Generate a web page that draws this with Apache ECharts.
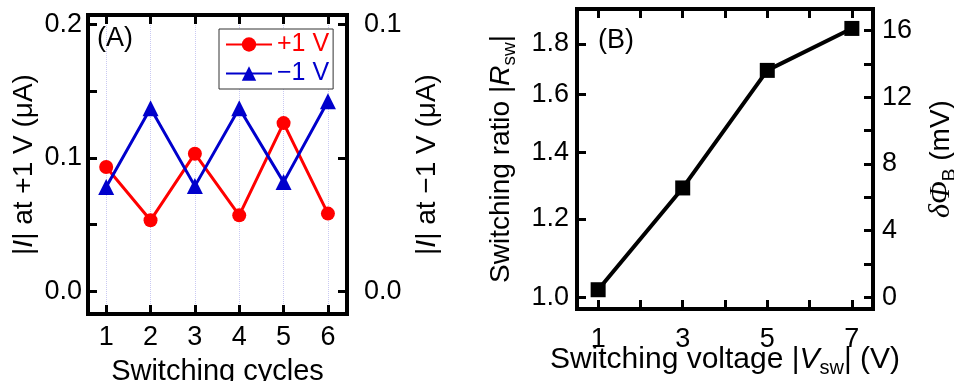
<!DOCTYPE html>
<html>
<head>
<meta charset="utf-8">
<script src="https://cdn.jsdelivr.net/npm/echarts@6/dist/echarts.min.js"></script>
<style>
  html, body { margin: 0; padding: 0; background: #fff; }
  #chart { width: 954px; height: 381px; }
</style>
</head>
<body>
<div id="chart"></div>
<script>
// ---- panel A: current after each switching cycle ----
const cycles = [1, 2, 3, 4, 5, 6];
const currentPos = [0.0931, 0.0532, 0.1031, 0.0569, 0.126, 0.0582]; // |I| at +1 V, left axis
const currentNeg = [0.0391, 0.0686, 0.0394, 0.0686, 0.0409, 0.0712]; // |I| at -1 V, right axis
const leftTicksA = [0, 0.05, 0.1, 0.15, 0.2];
const leftLabelsA = [0, 0.1, 0.2];
const rightTicksA = [0, 0.05, 0.1];
const rightLabelsA = [0, 0.1];

// ---- panel B: switching ratio vs switching voltage ----
const voltages = [1, 3, 5, 7];
const ratios = [1.018, 1.289, 1.693, 1.866];
const voltTicks = [1, 2, 3, 4, 5, 6, 7];
const voltLabels = [1, 3, 5, 7];
const ratioTicks = [1.0, 1.2, 1.4, 1.6, 1.8];
const phiTicks = [0, 2, 4, 6, 8, 10, 12, 14, 16];
const phiLabels = [0, 4, 8, 12, 16];
const ratioMin = 0.9735, ratioMax = 1.952;
const kTq = 25.85; // thermal voltage in mV, dPhi = kT/q * ln(R)

const sans = "'Liberation Sans', Arial, sans-serif";
const serif = "'Liberation Serif', 'DejaVu Serif', serif";

const nameRich = {
  n: { fontSize: 28, fontFamily: sans, color: "#000", lineHeight: 36, verticalAlign: "middle" },
  i: { fontSize: 28, fontFamily: sans, color: "#000", fontStyle: "italic", lineHeight: 36, verticalAlign: "middle" },
  s: { fontSize: 19, fontFamily: sans, color: "#000", lineHeight: 36, verticalAlign: "bottom" },
  g: { fontSize: 30, fontFamily: serif, color: "#000", fontStyle: "italic", lineHeight: 36, verticalAlign: "middle" },
  N: { fontSize: 30, fontFamily: sans, color: "#000", lineHeight: 36, verticalAlign: "middle" },
  I: { fontSize: 30, fontFamily: sans, color: "#000", fontStyle: "italic", lineHeight: 36, verticalAlign: "middle" },
  S: { fontSize: 20, fontFamily: sans, color: "#000", lineHeight: 36, verticalAlign: "bottom" },
};

// shared look for every frame side
function frameAxis(extra) {
  const ax = {
    type: "value",
    axisLine: { show: true, onZero: false, lineStyle: { color: "#000", width: 4, cap: "square" } },
    axisTick: { show: true, inside: true, length: 9, lineStyle: { color: "#000", width: 3 } },
    axisLabel: { show: false, color: "#000", fontSize: 27, fontFamily: sans },
    splitLine: { show: false },
    nameTextStyle: { color: "#000", fontSize: 29, fontFamily: sans, rich: nameRich },
  };
  for (const k in extra) {
    if (typeof extra[k] === "object" && ax[k] && !Array.isArray(extra[k])) {
      ax[k] = Object.assign({}, ax[k], extra[k]);
    } else {
      ax[k] = extra[k];
    }
  }
  return ax;
}

const chart = echarts.init(document.getElementById("chart"));

const option = {
  animation: false,
  backgroundColor: "#fff",
  title: [
    { text: "(A)", left: 97, top: 25, padding: 0, textStyle: { fontSize: 27, fontWeight: "normal", fontFamily: sans, color: "#000" } },
    { text: "(B)", left: 598, top: 27, padding: 0, textStyle: { fontSize: 27, fontWeight: "normal", fontFamily: sans, color: "#000" } },
  ],
  legend: {
    orient: "vertical",
    left: 219,
    top: 29,
    padding: [3, 4, 3, 6],
    itemGap: 4,
    itemWidth: 46,
    itemHeight: 18,
    borderColor: "#333",
    borderWidth: 1,
    backgroundColor: "#fff",
    textStyle: { fontSize: 25, fontFamily: sans },
    data: [
      { name: "+1 V", textStyle: { color: "#ff0000" } },
      { name: "\u22121 V", textStyle: { color: "#0000cc" } },
    ],
  },
  grid: [
    { left: 88, top: 15, width: 259, height: 299, outerBoundsMode: "none" },
    { left: 577, top: 9, width: 296, height: 300, outerBoundsMode: "none" },
  ],
  xAxis: [
    frameAxis({
      gridIndex: 0, position: "bottom", min: 0.59, max: 6.43,
      axisTick: { customValues: cycles },
      axisLabel: { show: true, customValues: cycles, margin: 10 },
      splitLine: { show: true, lineStyle: { color: "#c9c9f2", width: 1, type: "dotted" } },
      name: "Switching cycles", nameLocation: "middle", nameGap: 43, nameMoveOverlap: false,
    }),
    frameAxis({ gridIndex: 0, position: "top", min: 0.59, max: 6.43, axisTick: { customValues: cycles } }),
    frameAxis({
      gridIndex: 1, position: "bottom", min: 0.5, max: 7.5,
      axisTick: { customValues: voltTicks },
      axisLabel: { show: true, customValues: voltLabels, margin: 17 },
      name: "{N|Switching voltage |}{I|V}{S|sw}{N|| (V)}", nameLocation: "middle", nameGap: 33, nameMoveOverlap: false,
    }),
    frameAxis({ gridIndex: 1, position: "top", min: 0.5, max: 7.5, axisTick: { customValues: voltTicks } }),
  ],
  yAxis: [
    frameAxis({
      gridIndex: 0, position: "left", min: -0.017, max: 0.207,
      axisTick: { customValues: leftTicksA },
      axisLabel: { show: true, customValues: leftLabelsA, margin: 6, formatter: (v) => v.toFixed(1) },
      name: "{n||}{i|I}{n|| at +1 V (\u03bcA)}", nameLocation: "middle", nameRotate: 90, nameGap: 46,
    }),
    frameAxis({
      gridIndex: 0, position: "right", min: -0.0085, max: 0.1035,
      axisTick: { customValues: rightTicksA },
      axisLabel: { show: true, customValues: rightLabelsA, margin: 17, formatter: (v) => v.toFixed(1) },
      name: "{n||}{i|I}{n|| at \u22121 V (\u03bcA)}", nameLocation: "middle", nameRotate: 90, nameGap: 62,
    }),
    frameAxis({
      gridIndex: 1, position: "left", type: "log", logBase: 10, min: ratioMin, max: ratioMax,
      axisTick: { customValues: ratioTicks },
      axisLabel: { show: true, customValues: ratioTicks, margin: 8, formatter: (v) => v.toFixed(1) },
      name: "{n|Switching ratio |}{i|R}{s|sw}{n||}", nameLocation: "middle", nameRotate: 90, nameGap: 58,
    }),
    frameAxis({
      gridIndex: 1, position: "right", min: kTq * Math.log(ratioMin), max: kTq * Math.log(ratioMax),
      axisTick: { customValues: phiTicks },
      axisLabel: { show: true, customValues: phiLabels, margin: 9, formatter: (v) => String(Math.round(v)) },
      name: "{g|\u03b4\u03a6}{s|B}{n| (mV)}", nameLocation: "middle", nameRotate: 90, nameGap: 50,
    }),
  ],
  series: [
    {
      name: "+1 V",
      type: "line",
      xAxisIndex: 0, yAxisIndex: 0,
      data: cycles.map((c, i) => [c, currentPos[i]]),
      symbol: "circle", symbolSize: 14,
      itemStyle: { color: "#ff0000" },
      lineStyle: { color: "#ff0000", width: 3 },
      z: 3,
    },
    {
      name: "\u22121 V",
      type: "line",
      xAxisIndex: 0, yAxisIndex: 1,
      data: cycles.map((c, i) => [c, currentNeg[i]]),
      symbol: "triangle", symbolSize: 16,
      itemStyle: { color: "#0000cc" },
      lineStyle: { color: "#0000cc", width: 3 },
      z: 4,
    },
    {
      name: "ratio",
      type: "line",
      xAxisIndex: 2, yAxisIndex: 2,
      data: voltages.map((v, i) => [v, ratios[i]]),
      symbol: "rect", symbolSize: 15,
      itemStyle: { color: "#000" },
      lineStyle: { color: "#000", width: 4 },
    },
  ],
};

chart.setOption(option);
</script>
</body>
</html>
